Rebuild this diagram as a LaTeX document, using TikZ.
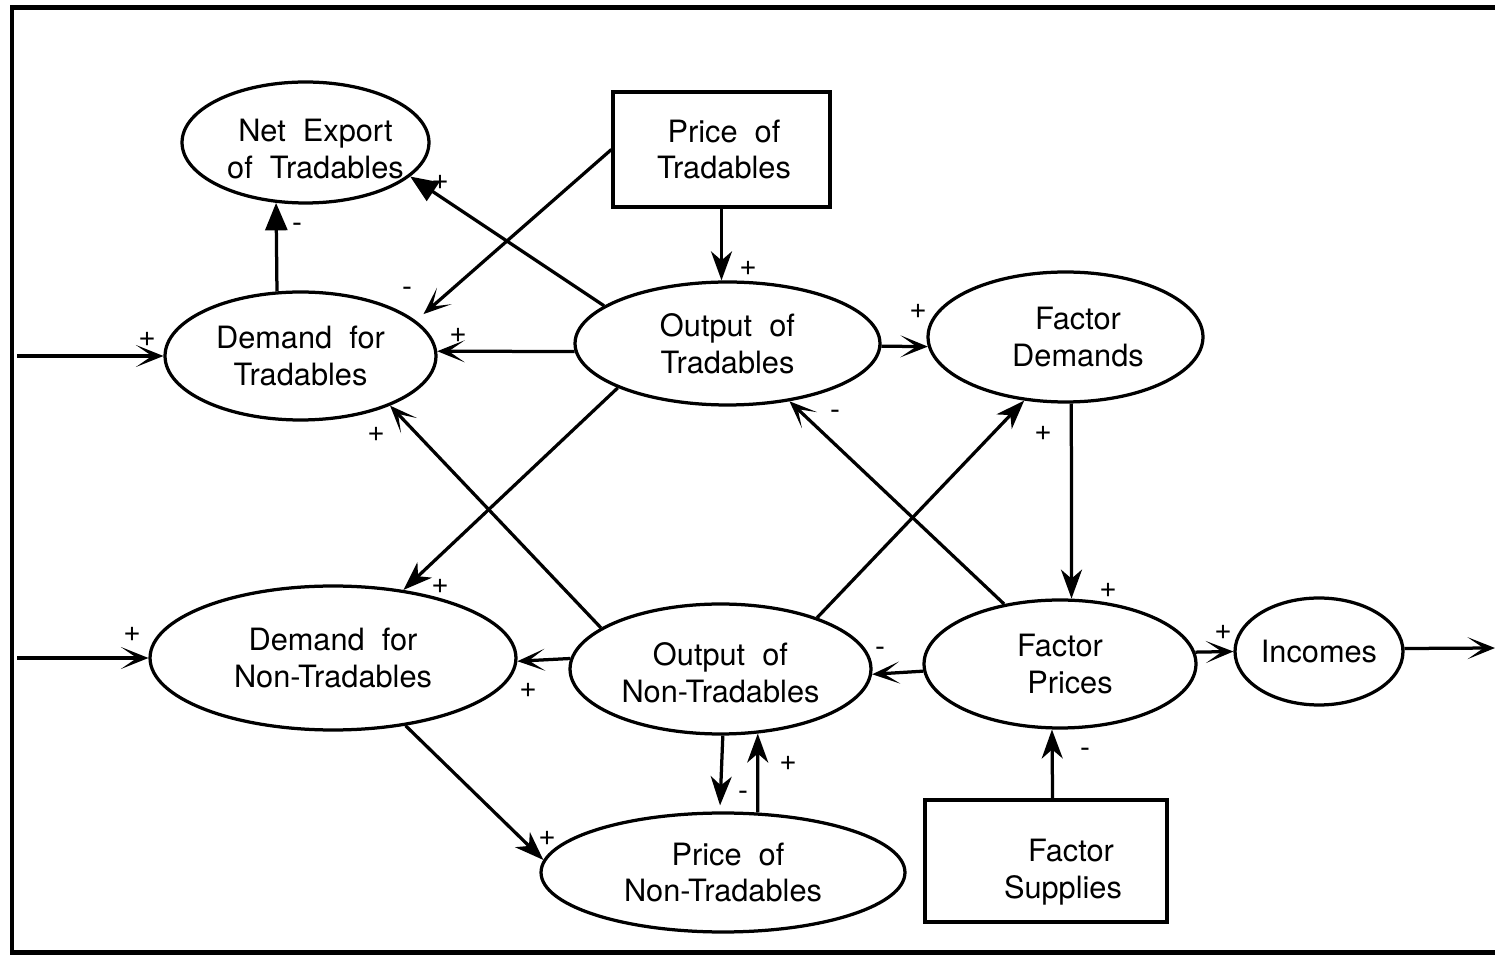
\documentclass[tikz,border=0pt]{standalone}
\usepackage{fontspec}
\setmainfont{TeX Gyre Heros}
\usetikzlibrary{arrows.meta,shapes.geometric}
\tikzset{font=\fontsize{17.5}{21}\selectfont}
\tikzset{ell/.style={ellipse, draw, line width=0.065cm, inner sep=-0.8cm, align=center},
  box/.style={rectangle, draw, line width=0.065cm, inner sep=0pt, align=center},
  sign/.style={font=\fontsize{17}{17}\selectfont, inner sep=0pt},
  barb/.style={-{Stealth[length=0.55cm,width=0.44cm,inset=0.32cm]}, line width=0.065cm},
  notch/.style={-{Stealth[length=0.58cm,width=0.42cm,inset=0.18cm]}, line width=0.065cm},
  tri/.style={-{Triangle[length=0.55cm,width=0.44cm]}, line width=0.065cm}}

\begin{document}
\begin{tikzpicture}[x=0.02cm,y=-0.02cm]
  \useasboundingbox (0,0) rectangle (1495,955);
  \draw[line width=0.09cm] (1495,7.5) -- (12,7.5) -- (12,952.5) -- (1495,952.5);

  \node[ell, minimum width=4.94cm, minimum height=2.42cm] (ne) at (305.5,142.5) {\rule{0pt}{0.72cm}\hspace*{0.4cm}Net\ \ Export\\\hspace*{0.4cm}of\ \ Tradables};
  \node[box, minimum width=4.34cm, minimum height=2.3cm] (pt) at (721.5,149.5) {\hspace*{0.1cm}Price\ \ of\\\hspace*{0.1cm}Tradables};
  \node[ell, minimum width=5.42cm, minimum height=2.56cm] (dt) at (300.5,356) {Demand\ \ for\\Tradables};
  \node[ell, minimum width=6.1cm, minimum height=2.46cm] (ot) at (727.5,343.5) {Output\ \ of\\Tradables};
  \node[ell, minimum width=5.5cm, minimum height=2.6cm] (fd) at (1065.5,337) {\hspace*{0.5cm}Factor\\\hspace*{0.5cm}Demands};
  \node[ell, minimum width=7.32cm, minimum height=2.88cm] (dn) at (333,658) {Demand\ \ for\\Non-Tradables};
  \node[ell, minimum width=6.02cm, minimum height=2.6cm] (on) at (720.5,669) {\rule{0pt}{0.6cm}Output\ \ of\\Non-Tradables};
  \node[ell, minimum width=5.44cm, minimum height=2.56cm] (fp) at (1060,664) {Factor\\\hspace*{0.4cm}Prices};
  \node[ell, minimum width=3.36cm, minimum height=2.14cm] (inc) at (1319,651.5) {Incomes};
  \node[ell, minimum width=7.28cm, minimum height=2.38cm] (pn) at (723,872.5) {\hspace*{0.2cm}Price\ \ of\\Non-Tradables};
  \node[box, minimum width=4.84cm, minimum height=2.44cm] (fs) at (1046,861) {\rule{0pt}{0.88cm}\hspace*{1cm}Factor\\\hspace*{0.68cm}Supplies};

  \coordinate (inT) at (17,356);
  \coordinate (inN) at (17,658);
  \coordinate (outI) at (1495,648);

  \draw[barb] (inT) -- (dt.west);
  \draw[barb] (inN) -- (dn.west);
  \draw[barb] (inc.2) -- (outI);
  \draw[barb] (fp.5) -- (inc.west);
  \draw[tri] (dt.110) -- (ne.244);
  \draw[tri] (ot.163) -- (ne.342);
  \draw[barb, shorten >=0.2cm] (pt.west) -- (dt.17);
  \draw[notch] (pt.south) -- (pt.south |- ot.north);
  \draw[barb] (ot.183) -- (dt.2);
  \draw[barb] (ot.359) -- (fd.184);
  \draw[notch] (ot.202) -- (dn.44);
  \draw[barb] (on.161) -- (dt.331);
  \draw[notch] (on.28) -- (fd.237);
  \draw[barb] (fp.133) -- (ot.317);
  \draw[notch] (fd.275) -- (fp.80);
  \draw[barb] (fp.183) -- (on.358);
  \draw[barb] (on.176) -- (dn.359);
  \draw[notch] (dn.317) -- (pn.176);
  \draw[notch, shorten >=0.12cm] (on.272) -- (pn.93);
  \draw[notch] (pn.60) -- (on.300);
  \draw[notch] (fs.84) -- (fp.263);

  \foreach \p/\s [count=\i] in {{147,339}/+, {132,634}/+, {297,228}/-, {440,182}/+,
      {407,292}/-, {458,335}/+, {748,268}/+, {918,311}/+, {440,586}/+, {376,434}/+,
      {1043,433}/+, {835,415}/-, {1108,590}/+, {880,652}/-, {528,690}/+, {547,838}/+,
      {743,796}/-, {788,763}/+, {1085,753}/-, {1223,632}/+}
    \node[sign] (s\i) at (\p) {\s};
\end{tikzpicture}
\end{document}
